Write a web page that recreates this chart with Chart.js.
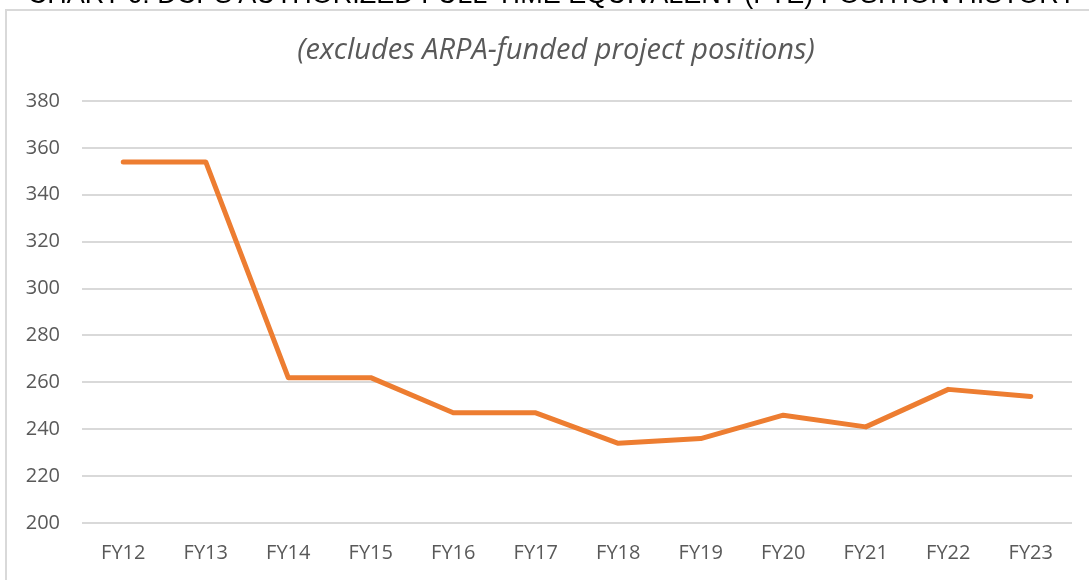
<!DOCTYPE html>
<html>
<head>
<meta charset="utf-8">
<script src="https://cdn.jsdelivr.net/npm/chart.js@4"></script>
<style>
  body { margin: 0; width: 1089px; height: 580px; overflow: hidden; background: #fff; position: relative; }
  #frame { position: absolute; left: 5px; top: 9px; width: 1200px; height: 700px; border: 2px solid #d9d9d9; box-sizing: border-box; }
  #title { position: absolute; left: 0; width: 1104px; top: -21px; text-align: center; font-family: "Liberation Sans", Arial, sans-serif; font-size: 27px; color: #000; white-space: nowrap; }
  #sub { position: absolute; left: 0; width: 1112px; top: 28px; text-align: center; font-family: "Open Sans", sans-serif; font-style: italic; font-size: 29px; color: #595959; white-space: nowrap; }
  #wrap { position: absolute; left: 0; top: 0; width: 1089px; height: 580px; }
</style>
</head>
<body>
<div id="frame"></div>
<div id="wrap"><canvas id="chart"></canvas></div>
<div id="title">CHART 6: DCPS AUTHORIZED FULL-TIME EQUIVALENT (FTE) POSITION HISTORY</div>
<div id="sub">(excludes ARPA-funded project positions)</div>
<script>
// data
const years = ["FY12", "FY13", "FY14", "FY15", "FY16", "FY17", "FY18", "FY19", "FY20", "FY21", "FY22", "FY23"];
const fte = [354, 354, 262, 262, 247, 247, 234, 236, 246, 241, 257, 254];
const yTicks = [200, 220, 240, 260, 280, 300, 320, 340, 360, 380];

const tickFont = { family: "'Open Sans', sans-serif", size: 20 };

new Chart(document.getElementById('chart'), {
  type: 'line',
  data: {
    labels: years,
    datasets: [{
      label: 'FTE',
      data: fte,
      borderColor: '#ed7d31',
      borderWidth: 5,
      borderCapStyle: 'round',
      borderJoinStyle: 'round',
      pointRadius: 0,
      tension: 0,
      fill: false
    }]
  },
  options: {
    responsive: true,
    maintainAspectRatio: false,
    animation: false,
    layout: { padding: { top: 101, right: 17, bottom: 0, left: 0 } },
    plugins: { legend: { display: false }, tooltip: { enabled: false } },
    scales: {
      x: {
        offset: true,
        grid: { display: false, drawTicks: false },
        border: { display: false },
        ticks: { color: '#595959', font: tickFont, padding: 18, maxRotation: 0 },
        afterFit: s => { s.height = 57; }
      },
      y: {
        min: yTicks[0],
        max: yTicks[yTicks.length - 1],
        afterBuildTicks: s => { s.ticks = yTicks.map(v => ({ value: v })); },
        grid: { color: '#d9d9d9', lineWidth: 2, drawTicks: false },
        border: { display: false },
        ticks: { color: '#595959', font: tickFont, padding: 22 },
        afterFit: s => { s.width = 82; }
      }
    }
  }
});
</script>
</body>
</html>
